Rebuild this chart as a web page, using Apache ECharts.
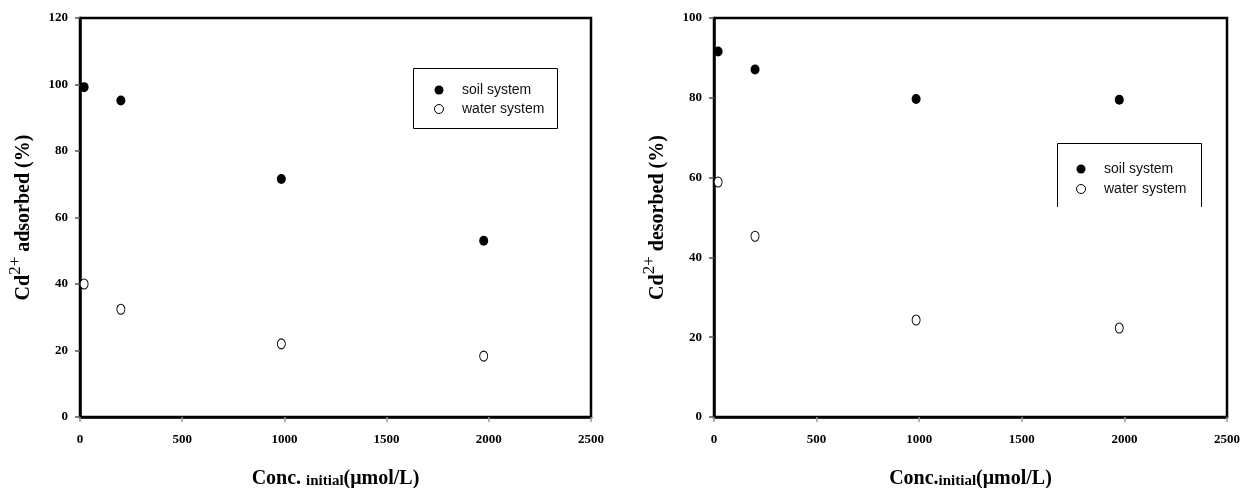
<!DOCTYPE html>
<html><head><meta charset="utf-8">
<script src="https://cdn.jsdelivr.net/npm/echarts@6/dist/echarts.min.js"></script>
<style>html,body{margin:0;padding:0;background:#fff}#c{width:1240px;height:488px}</style>
</head><body><div id="c"></div>
<script>
const concInitial = [20, 200, 985, 1975];
const adsorbedSoil = [99.2, 95.2, 71.6, 53.0];
const adsorbedWater = [40.0, 32.4, 22.0, 18.3];
const desorbedSoil = [91.6, 87.1, 79.7, 79.5];
const desorbedWater = [58.9, 45.3, 24.3, 22.3];
const xTicks = [0, 500, 1000, 1500, 2000, 2500];
const yTicksLeft = [0, 20, 40, 60, 80, 100, 120];
const yTicksRight = [0, 20, 40, 60, 80, 100];

const pairs = (xs, ys) => xs.map((x, i) => [x, ys[i]]);
const serif = 'Liberation Serif';
const tickLabel = {color: '#000', fontFamily: serif, fontWeight: 'bold', fontSize: 13, formatter: v => String(v)};

function xAxis(gi, sep) {
  return {
    type: 'value', gridIndex: gi, min: xTicks[0], max: xTicks[xTicks.length - 1], interval: 500,
    axisLine: {show: true, onZero: false, lineStyle: {color: '#000', width: 2.5}},
    axisTick: {show: true, length: 5, lineStyle: {color: '#999', width: 1.5}},
    axisLabel: Object.assign({margin: 16}, tickLabel),
    splitLine: {show: false},
    name: sep ? '{a|Conc.}{b|initial}{a|(μmol/L)}' : '{a|Conc. }{b|initial}{a|(μmol/L)}',
    nameLocation: 'middle', nameGap: 50,
    nameTextStyle: {rich: {
      a: {fontFamily: serif, fontWeight: 'bold', fontSize: 20, color: '#000', verticalAlign: 'bottom', lineHeight: 22},
      b: {fontFamily: serif, fontWeight: 'bold', fontSize: 15, color: '#000', padding: [9, 0, 0, 0], verticalAlign: 'bottom', lineHeight: 22}
    }}
  };
}
function yAxis(gi, ticks, word) {
  return {
    type: 'value', gridIndex: gi, min: 0, max: ticks[ticks.length - 1], interval: 20,
    axisLine: {show: true, lineStyle: {color: '#000', width: 2.5}},
    axisTick: {show: true, length: 5, lineStyle: {color: '#555', width: 1.5}},
    axisLabel: Object.assign({margin: 12}, tickLabel),
    splitLine: {show: false},
    name: '{a|Cd}{s|2+}{a| ' + word + ' (%)}',
    nameLocation: 'middle', nameGap: 46, nameRotate: 90,
    nameTextStyle: {rich: {
      a: {fontFamily: serif, fontWeight: 'bold', fontSize: 20, color: '#000', lineHeight: 26, verticalAlign: 'bottom'},
      s: {fontFamily: serif, fontSize: 17, color: '#000', padding: [0, 0, 10, 0], lineHeight: 26, verticalAlign: 'bottom'}
    }}
  };
}
const soilStyle = {color: '#000', opacity: 1};
const waterStyle = {color: '#fff', borderColor: '#000', borderWidth: 1, opacity: 1};
const legendText = {fontFamily: 'Liberation Sans', fontSize: 14, color: '#111', lineHeight: 12, padding: [0, 0, 0, 13]};
const legendData = [
  {name: 'soil system', icon: 'circle', itemStyle: {color: '#000', borderWidth: 0}},
  {name: 'water system', icon: 'circle', itemStyle: {color: '#fff', borderColor: '#000', borderWidth: 1}}
];

const chart = echarts.init(document.getElementById('c'), null, {renderer: 'canvas'});
chart.setOption({
  animation: false,
  backgroundColor: '#fff',
  grid: [
    {left: 80, top: 18, width: 511, height: 399, show: true, borderColor: '#000', borderWidth: 2.5, containLabel: false, outerBoundsMode: 'none'},
    {left: 714, top: 18, width: 513, height: 399, show: true, borderColor: '#000', borderWidth: 2.5, containLabel: false, outerBoundsMode: 'none'}
  ],
  xAxis: [xAxis(0, false), xAxis(1, true)],
  yAxis: [yAxis(0, yTicksLeft, 'adsorbed'), yAxis(1, yTicksRight, 'desorbed')],
  legend: [
    {left: 434, top: 83, orient: 'vertical', itemGap: 5, itemWidth: 10, itemHeight: 9, padding: 0,
     data: legendData, textStyle: legendText, selectedMode: false},
    {left: 1076, top: 162, orient: 'vertical', itemGap: 6, itemWidth: 10, itemHeight: 9, padding: 0,
     data: legendData, textStyle: legendText, selectedMode: false}
  ],
  graphic: [
    {type: 'rect', shape: {x: 413.5, y: 68.5, width: 144, height: 60}, style: {fill: 'none', stroke: '#000', lineWidth: 1}, z: 0},
    {type: 'polyline', shape: {points: [[1057.5, 207], [1057.5, 143.5], [1201.5, 143.5], [1201.5, 207]]}, style: {fill: 'none', stroke: '#000', lineWidth: 1}, z: 0}
  ],
  series: [
    {name: 'soil system', type: 'scatter', xAxisIndex: 0, yAxisIndex: 0, data: pairs(concInitial, adsorbedSoil), symbol: 'circle', symbolSize: [9, 10], itemStyle: soilStyle},
    {name: 'water system', type: 'scatter', xAxisIndex: 0, yAxisIndex: 0, data: pairs(concInitial, adsorbedWater), symbol: 'circle', symbolSize: [8, 10], itemStyle: waterStyle},
    {name: 'soil system', type: 'scatter', xAxisIndex: 1, yAxisIndex: 1, data: pairs(concInitial, desorbedSoil), symbol: 'circle', symbolSize: [9, 10], itemStyle: soilStyle},
    {name: 'water system', type: 'scatter', xAxisIndex: 1, yAxisIndex: 1, data: pairs(concInitial, desorbedWater), symbol: 'circle', symbolSize: [8, 10], itemStyle: waterStyle}
  ]
});
</script></body></html>
